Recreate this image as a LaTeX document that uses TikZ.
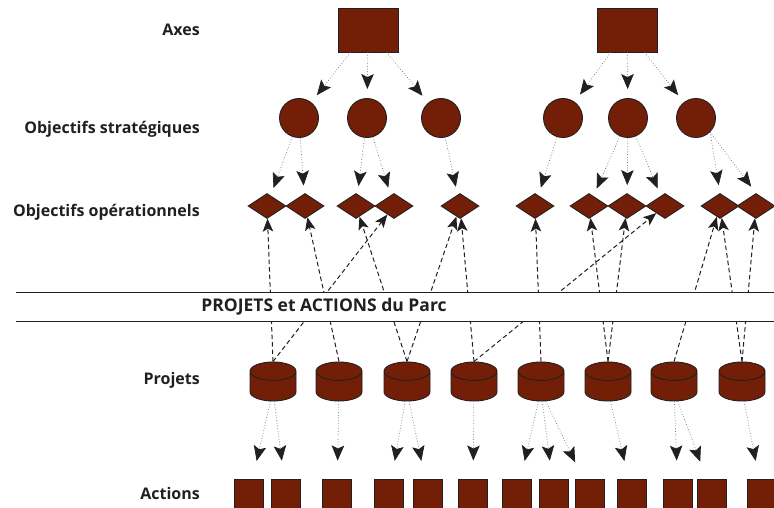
\documentclass[tikz,border=0pt]{standalone}
\usepackage{fontspec}
\setmainfont{Open Sans}
\usetikzlibrary{arrows.meta, shapes.geometric}
\definecolor{ink}{HTML}{231F20}
\definecolor{brick}{HTML}{731F08}
\definecolor{dots}{HTML}{707070}
\tikzset{
  font=\bfseries\fontsize{16}{19}\selectfont,
  %
  axisbox/.style={draw=ink, line width=0.9pt, fill=brick, inner sep=0pt,
                  minimum width=60pt, minimum height=44pt},
  stratdot/.style={circle, draw=ink, line width=0.9pt, fill=brick,
                   inner sep=0pt, minimum size=39pt},
  opdiam/.style={diamond, draw=ink, line width=0.9pt, fill=brick,
                 inner sep=0pt, minimum width=38pt, minimum height=25pt},
  projcyl/.style={cylinder, shape border rotate=90, aspect=0.4,
                  anchor=shape center,
                  draw=ink, line width=0.9pt, fill=brick,
                  inner xsep=23pt, inner ysep=0pt,
                  minimum width=46pt, minimum height=39pt},
  actbox/.style={draw=ink, line width=0.9pt, fill=brick, inner sep=0pt,
                 minimum width=29pt, minimum height=29pt},
  %
  refine/.style={draw=dots, line width=0.7pt, dotted,
                 -{Stealth[length=15pt, width=12.5pt, inset=3pt, color=ink]}},
  serves/.style={draw=ink, line width=1pt, dash pattern=on 4.5pt off 3pt,
                 -{Stealth[length=13pt, width=10.5pt, inset=3pt]}},
  %
  band/.style={fill=white, inner sep=0pt, minimum width=758pt,
               minimum height=28pt},
  bandline/.style={draw=ink, line width=1.1pt},
  rowlbl/.style={anchor=east, text=ink, inner sep=0pt},
}

\begin{document}
\begin{tikzpicture}[x=1pt, y=-1pt]
  \useasboundingbox (0,0) rectangle (774,508);

  % row labels
  \node[rowlbl] (laxes)  at (200,30)  {Axes};
  \node[rowlbl] (lstrat) at (200,129) {Objectifs stratégiques};
  \node[rowlbl] (lop)    at (200,212) {Objectifs opérationnels};
  \node[rowlbl] (lproj)  at (200,380) {Projets};
  \node[rowlbl] (lact)   at (200,493) {Actions};

  % axes
  \node[axisbox] (ax1) at (368,30) {};
  \node[axisbox] (ax2) at (627,30) {};

  % strategic objectives
  \node[stratdot] (s1) at (299,118) {};
  \node[stratdot] (s2) at (367,118) {};
  \node[stratdot] (s3) at (441,118) {};
  \node[stratdot] (s4) at (563,118) {};
  \node[stratdot] (s5) at (628,118) {};
  \node[stratdot] (s6) at (696,118) {};

  % operational objectives
  \node[opdiam] (d1)  at (267,206) {};
  \node[opdiam] (d2)  at (305,206) {};
  \node[opdiam] (d3)  at (356,206) {};
  \node[opdiam] (d4)  at (394,206) {};
  \node[opdiam] (d5)  at (460,206) {};
  \node[opdiam] (d6)  at (535,206) {};
  \node[opdiam] (d7)  at (589,206) {};
  \node[opdiam] (d8)  at (627,206) {};
  \node[opdiam] (d9)  at (665,206) {};
  \node[opdiam] (d10) at (720,206) {};
  \node[opdiam] (d11) at (756,206) {};

  % projects
  \node[projcyl] (p1) at (273,381.5) {};
  \node[projcyl] (p2) at (339,381.5) {};
  \node[projcyl] (p3) at (407,381.5) {};
  \node[projcyl] (p4) at (474,381.5) {};
  \node[projcyl] (p5) at (541,381.5) {};
  \node[projcyl] (p6) at (608,381.5) {};
  \node[projcyl] (p7) at (674,381.5) {};
  \node[projcyl] (p8) at (742,381.5) {};

  % actions
  \node[actbox] (a1)  at (249,493.5) {};
  \node[actbox] (a2)  at (286,493.5) {};
  \node[actbox] (a3)  at (337,493.5) {};
  \node[actbox] (a4)  at (389,493.5) {};
  \node[actbox] (a5)  at (428,493.5) {};
  \node[actbox] (a6)  at (473,493.5) {};
  \node[actbox] (a7)  at (517,493.5) {};
  \node[actbox] (a8)  at (554,493.5) {};
  \node[actbox] (a9)  at (590,493.5) {};
  \node[actbox] (a10) at (632,493.5) {};
  \node[actbox] (a11) at (678,493.5) {};
  \node[actbox] (a12) at (712,493.5) {};
  \node[actbox] (a13) at (762,493.5) {};

  % top-down refinement (dotted)
  \draw[refine, shorten >=9pt] (ax1) -- (s1);
  \draw[refine, shorten >=9pt] (ax1) -- (s2);
  \draw[refine, shorten >=9pt] (ax1) -- (s3);
  \draw[refine, shorten >=9pt] (ax2) -- (s4);
  \draw[refine, shorten >=9pt] (ax2) -- (s5);
  \draw[refine, shorten >=9pt] (ax2) -- (s6);

  \draw[refine, shorten >=8pt] (s1) -- (d1);
  \draw[refine, shorten >=8pt] (s1) -- (d2);
  \draw[refine, shorten >=8pt] (s2) -- (d3);
  \draw[refine, shorten >=8pt] (s2) -- (d4);
  \draw[refine, shorten >=8pt] (s3) -- (d5);
  \draw[refine, shorten >=8pt] (s4) -- (d6);
  \draw[refine, shorten >=8pt] (s5) -- (d7);
  \draw[refine, shorten >=8pt] (s5) -- (d8);
  \draw[refine, shorten >=8pt] (s5) -- (d9);
  \draw[refine, shorten >=8pt] (s6.south east) -- (d10.north);
  \draw[refine, shorten >=8pt] (s6.south east) -- (d11.north);

  \draw[refine, shorten >=18pt] (p1) -- (a1);
  \draw[refine, shorten >=18pt] (p1) -- (a2);
  \draw[refine, shorten >=18pt] (p2) -- (a3);
  \draw[refine, shorten >=18pt] (p3) -- (a4);
  \draw[refine, shorten >=18pt] (p3) -- (a5);
  \draw[refine, shorten >=18pt] (p4) -- (a6);
  \draw[refine, shorten >=18pt] (p5) -- (a7);
  \draw[refine, shorten >=18pt] (p5) -- (a8);
  \draw[refine, shorten >=18pt] (p5) -- (a9);
  \draw[refine, shorten >=18pt] (p6) -- (a10);
  \draw[refine, shorten >=18pt] (p7) -- (a11);
  \draw[refine, shorten >=18pt] (p7) -- (a12);
  \draw[refine, shorten >=18pt] (p8) -- (a13);

  % projects serving objectives (dashed, bottom-up)
  \draw[serves] (p1.north) -- (d1);
  \draw[serves] (p1.north) -- (d4);
  \draw[serves] (p2.north) -- (d2);
  \draw[serves] (p3.north) -- (d3);
  \draw[serves] (p3.north) -- (d5);
  \draw[serves] (p4.north) -- (d5);
  \draw[serves] (p4.north) -- (d9);
  \draw[serves] (p5.north) -- (d6);
  \draw[serves] (p6.north) -- (d7);
  \draw[serves] (p6.north) -- (d8);
  \draw[serves] (p7.north) -- (d10);
  \draw[serves] (p8.north) -- (d10);
  \draw[serves] (p8.north) -- (d11);

  % the band hides the crossing lines
  \node[band] (parc) at (395,307) {};
  \draw[bandline] (parc.north west) -- (parc.north east);
  \draw[bandline] (parc.south west) -- (parc.south east);
  \node[text=ink, inner sep=0pt, font=\bfseries\fontsize{17.5}{20}\selectfont]
    (parctitle) at (324,307) {PROJETS et ACTIONS du Parc};

\end{tikzpicture}
\end{document}
